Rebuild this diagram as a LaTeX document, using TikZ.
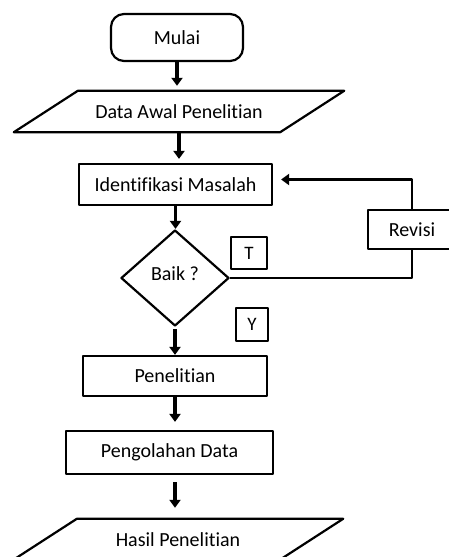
\documentclass[tikz,border=0pt]{standalone}
\usepackage{fontspec}
\setmainfont[Ligatures=NoCommon]{Carlito}
\usetikzlibrary{shapes.geometric,arrows.meta,calc}
% slanted input/output box drawn round a plain node
\newcommand{\pgram}[1]{\draw[line width=2.2pt] ($(#1.north west)+(32,0)$) -- ($(#1.north east)+(32,0)$) -- ($(#1.south east)+(-32,0)$) -- ($(#1.south west)+(-32,0)$) -- cycle;}
\begin{document}
\begin{tikzpicture}[x=1pt, y=-1pt, font=\fontsize{20}{24}\selectfont, line join=round, >={Triangle[width=11pt,length=8pt]},
	box/.style={draw, line width=2.2pt, inner sep=0pt},
	io/.style={inner sep=0pt, minimum width=266pt, minimum height=41pt},
	tag/.style={draw, line width=1.6pt, inner sep=0pt, font=\fontsize{19}{22}\selectfont},
	flow/.style={->, line width=3.5pt},
	loop/.style={line width=2.2pt}]
		\useasboundingbox (0,0) rectangle (449,557);
		\clip (0,0) rectangle (449,557);
		\node[box, rounded corners=13pt, minimum width=132pt, minimum height=47pt] (mul) at (177,37.5) {Mulai};
		\node[io] (dat) at (179,111.5) {Data Awal Penelitian};
		\node[box, minimum width=193pt, minimum height=41pt] (idn) at (175.5,184.5) {Identifikasi Masalah};
		\node[box, diamond, minimum width=108pt, minimum height=96pt] (baik) at (175,278) {\raisebox{8pt}{Baik ?}};
		\node[tag, minimum width=36pt, minimum height=32pt] (t) at (249,253) {T};
		\node[tag, minimum width=32pt, minimum height=33pt] (y) at (252,324.5) {Y};
		\node[box, minimum width=88pt, minimum height=39pt] (rev) at (412,229.5) {Revisi};
		\node[box, minimum width=184pt, minimum height=40pt] (pen) at (175,376) {Penelitian};
		\node[box, minimum width=207pt, minimum height=43pt] (olah) at (169.5,452.5) {Pengolahan Data};
		\node[io] (has) at (178,539.5) {Hasil Penelitian};
		\coordinate (back) at ([yshift=5pt]idn.east);
		\pgram{dat}
		\pgram{has}
		\draw[flow, shorten >=5pt] (mul.south) -- (mul.south |- dat.north);
		\draw[flow, shorten >=4pt] (dat.south) -- (dat.south |- idn.north);
		\draw[flow] (idn.south) -- (idn.south |- baik.north);
		\draw[flow, shorten <=2pt] (baik.south) -- (baik.south |- pen.north);
		\draw[flow, shorten >=8pt] (pen.south) -- (pen.south |- olah.north);
		\draw[flow, shorten <=7pt, shorten >=11pt] (olah.south -| pen.south) -- (pen.south |- has.north);
		\draw[loop] (baik.east) -- (baik.east -| rev.south) -- (rev.south);
		\draw[loop, ->, shorten >=8pt] (rev.north) -- (rev.north |- back) -- (back);
\end{tikzpicture}
\end{document}
